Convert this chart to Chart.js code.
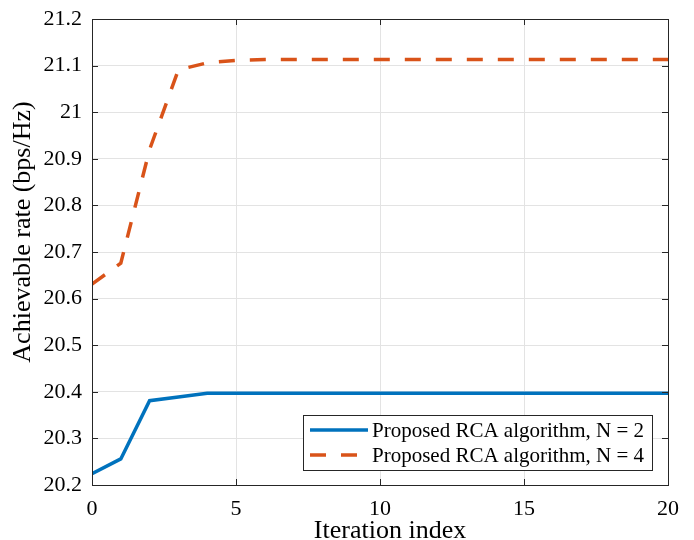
<!DOCTYPE html>
<html>
<head>
<meta charset="utf-8">
<script src="https://cdn.jsdelivr.net/npm/chart.js@4/dist/chart.umd.min.js"></script>
<style>
html,body{margin:0;padding:0;background:#fff;}
canvas{display:block;}
</style>
</head>
<body>
<canvas id="c" width="694" height="540"></canvas>
<script>
const iterations = [0,1,2,3,4,5,6,7,8,9,10,11,12,13,14,15,16,17,18,19,20];
const rateN2 = [20.224,20.256,20.381,20.389,20.397,20.397,20.397,20.397,20.397,20.397,20.397,20.397,20.397,20.397,20.397,20.397,20.397,20.397,20.397,20.397,20.397];
const rateN4 = [20.631,20.676,20.920,21.091,21.106,21.111,21.113,21.113,21.113,21.113,21.113,21.113,21.113,21.113,21.113,21.113,21.113,21.113,21.113,21.113,21.113];
const seriesLabels = ['Proposed RCA algorithm, N = 2','Proposed RCA algorithm, N = 4'];
const xTitle = 'Iteration index';
const yTitle = 'Achievable rate (bps/Hz)';

const FONT = '"Liberation Serif", "Times New Roman", serif';
const AX = '#262626';

const framePlugin = {
  id: 'frame',
  afterDatasetsDraw(chart) {
    const {ctx, chartArea: a, scales} = chart;
    ctx.save();
    // frame
    ctx.strokeStyle = AX;
    ctx.lineWidth = 1;
    ctx.strokeRect(Math.round(a.left)+0.5, Math.round(a.top)+0.5, Math.round(a.right-a.left), Math.round(a.bottom-a.top));
    // inward ticks
    const tl = 6;
    scales.x.ticks.forEach(t => {
      const px = Math.round(scales.x.getPixelForValue(t.value)) + 0.5;
      ctx.beginPath();
      ctx.moveTo(px, a.bottom); ctx.lineTo(px, a.bottom - tl);
      ctx.moveTo(px, a.top); ctx.lineTo(px, a.top + tl);
      ctx.stroke();
    });
    scales.y.ticks.forEach(t => {
      const py = Math.round(scales.y.getPixelForValue(t.value)) + 0.5;
      ctx.beginPath();
      ctx.moveTo(a.left, py); ctx.lineTo(a.left + tl, py);
      ctx.moveTo(a.right, py); ctx.lineTo(a.right - tl, py);
      ctx.stroke();
    });
    // axis titles
    ctx.fillStyle = '#000';
    ctx.font = '26px ' + FONT;
    ctx.textAlign = 'center';
    ctx.textBaseline = 'alphabetic';
    ctx.fillText(xTitle, 390, 538);
    ctx.save();
    ctx.translate(30, 232);
    ctx.rotate(-Math.PI / 2);
    ctx.fillText(yTitle, 0, 0);
    ctx.restore();
    // legend box
    const bx = 303.5, by = 415.5, bw = 349, bh = 55;
    ctx.fillStyle = '#fff';
    ctx.fillRect(bx, by, bw, bh);
    ctx.strokeStyle = AX;
    ctx.lineWidth = 1;
    ctx.strokeRect(bx, by, bw, bh);
    const rows = [430, 455];
    chart.data.datasets.forEach((ds, i) => {
      const y = rows[i];
      ctx.save();
      ctx.strokeStyle = ds.borderColor;
      ctx.lineWidth = ds.borderWidth;
      ctx.lineCap = 'butt';
      ctx.setLineDash(ds.borderDash || []);
      ctx.beginPath();
      ctx.moveTo(310, y); ctx.lineTo(368, y);
      ctx.stroke();
      ctx.restore();
      ctx.fillStyle = '#000';
      ctx.font = '21px ' + FONT;
      ctx.textBaseline = 'middle';
      ctx.textAlign = 'left';
      ctx.fillText(ds.label, 372, y + 1);
    });
    ctx.restore();
  }
};

new Chart(document.getElementById('c'), {
  type: 'line',
  data: {
    datasets: [
      {
        label: seriesLabels[0],
        data: iterations.map((x, i) => ({x, y: rateN2[i]})),
        borderColor: '#0072BD',
        borderWidth: 3.5,
        pointRadius: 0,
        tension: 0,
        fill: false
      },
      {
        label: seriesLabels[1],
        data: iterations.map((x, i) => ({x, y: rateN4[i]})),
        borderColor: '#D95319',
        borderWidth: 3.5,
        borderDash: [16, 15],
        borderCapStyle: 'butt',
        pointRadius: 0,
        tension: 0,
        fill: false
      }
    ]
  },
  options: {
    responsive: false,
    animation: false,
    devicePixelRatio: 1,
    layout: {padding: {top: 19, right: 26, left: 0, bottom: 0}},
    plugins: {legend: {display: false}, tooltip: {enabled: false}},
    scales: {
      x: {
        type: 'linear',
        min: 0, max: 20,
        ticks: {stepSize: 5, color: '#000', font: {family: FONT, size: 22}, padding: 11, maxRotation: 0},
        grid: {color: '#e3e3e3', lineWidth: 1, drawTicks: false},
        border: {color: AX, width: 1},
        title: {display: false},
        afterFit(s) { s.height = 55; s.paddingLeft = 0; s.paddingRight = 0; }
      },
      y: {
        type: 'linear',
        min: 20.2, max: 21.2,
        ticks: {stepSize: 0.1, color: '#000', font: {family: FONT, size: 22}, padding: 10,
          callback: v => String(Number(v.toFixed(1)))},
        grid: {color: '#e3e3e3', lineWidth: 1, drawTicks: false},
        border: {color: AX, width: 1},
        title: {display: false},
        afterFit(s) { s.width = 92; s.paddingTop = 0; s.paddingBottom = 0; }
      }
    }
  },
  plugins: [framePlugin]
});
</script>
</body>
</html>
